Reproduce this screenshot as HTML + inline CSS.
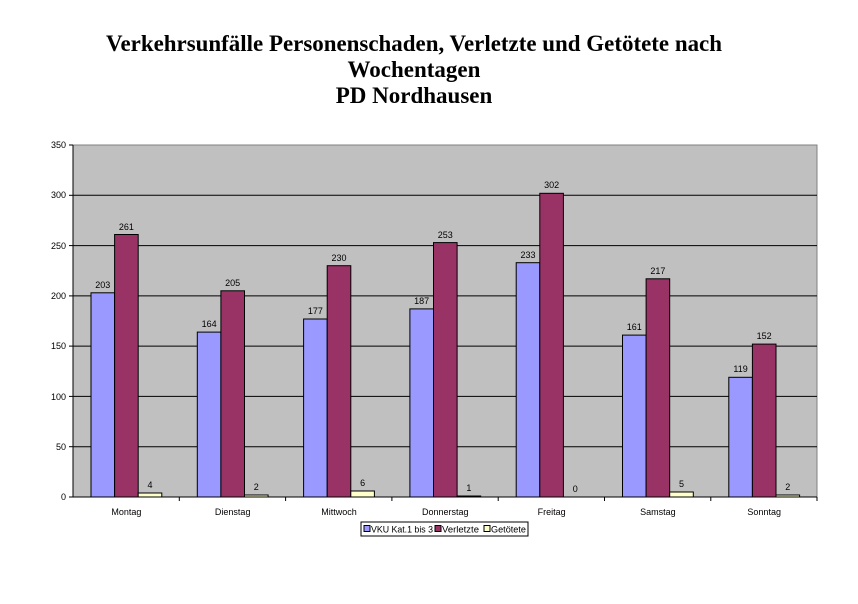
<!DOCTYPE html>
<html><head><meta charset="utf-8"><style>body{margin:0;background:#fff}svg{display:block}</style></head><body>
<svg width="858" height="604" xmlns="http://www.w3.org/2000/svg" font-family="Liberation Sans, sans-serif">
<g font-family="Liberation Serif, serif" font-weight="bold" font-size="23" text-anchor="middle" fill="#000">
<text x="414" y="51" textLength="616" lengthAdjust="spacingAndGlyphs">Verkehrsunfälle Personenschaden, Verletzte und Getötete nach</text>
<text x="414" y="77">Wochentagen</text>
<text x="414" y="103">PD Nordhausen</text>
</g>
<rect x="73" y="145" width="744" height="352" fill="#c0c0c0" stroke="#808080" stroke-width="1"/>
<g stroke="#000" stroke-width="1">
<line x1="73" y1="446.7" x2="817" y2="446.7"/><line x1="73" y1="396.4" x2="817" y2="396.4"/>
<line x1="73" y1="346.1" x2="817" y2="346.1"/><line x1="73" y1="295.9" x2="817" y2="295.9"/>
<line x1="73" y1="245.6" x2="817" y2="245.6"/><line x1="73" y1="195.3" x2="817" y2="195.3"/>
<line x1="73" y1="145" x2="73" y2="497"/><line x1="73" y1="497" x2="817" y2="497"/>
<line x1="69" y1="145" x2="73" y2="145"/><line x1="69" y1="195.3" x2="73" y2="195.3"/><line x1="69" y1="245.6" x2="73" y2="245.6"/><line x1="69" y1="295.9" x2="73" y2="295.9"/><line x1="69" y1="346.1" x2="73" y2="346.1"/><line x1="69" y1="396.4" x2="73" y2="396.4"/><line x1="69" y1="446.7" x2="73" y2="446.7"/><line x1="69" y1="497" x2="73" y2="497"/>
<line x1="179.3" y1="497" x2="179.3" y2="501"/><line x1="285.6" y1="497" x2="285.6" y2="501"/><line x1="391.9" y1="497" x2="391.9" y2="501"/><line x1="498.2" y1="497" x2="498.2" y2="501"/><line x1="604.5" y1="497" x2="604.5" y2="501"/><line x1="710.8" y1="497" x2="710.8" y2="501"/><line x1="817" y1="497" x2="817" y2="501"/>
</g>
<g font-size="9" text-anchor="end" fill="#000">
<text x="66" y="148">350</text><text x="66" y="198">300</text><text x="66" y="249">250</text><text x="66" y="299">200</text><text x="66" y="349">150</text><text x="66" y="400">100</text><text x="66" y="450">50</text><text x="66" y="500">0</text>
</g>
<g stroke="#000" stroke-width="1">
<rect x="91" y="292.8" width="23.6" height="204.2" fill="#9999ff"/><rect x="114.6" y="234.5" width="23.6" height="262.5" fill="#993366"/><rect x="138.2" y="493" width="23.6" height="4" fill="#ffffcc"/>
<rect x="197.3" y="332.1" width="23.6" height="164.9" fill="#9999ff"/><rect x="220.9" y="290.8" width="23.6" height="206.2" fill="#993366"/><rect x="244.5" y="495" width="23.6" height="2" fill="#ffffcc"/>
<rect x="303.6" y="319" width="23.6" height="178" fill="#9999ff"/><rect x="327.2" y="265.7" width="23.6" height="231.3" fill="#993366"/><rect x="350.8" y="491" width="23.6" height="6" fill="#ffffcc"/>
<rect x="409.9" y="308.9" width="23.6" height="188.1" fill="#9999ff"/><rect x="433.5" y="242.6" width="23.6" height="254.4" fill="#993366"/><rect x="457.1" y="496" width="23.6" height="1" fill="#ffffcc"/>
<rect x="516.2" y="262.7" width="23.6" height="234.3" fill="#9999ff"/><rect x="539.8" y="193.3" width="23.6" height="303.7" fill="#993366"/>
<rect x="622.5" y="335.1" width="23.6" height="161.9" fill="#9999ff"/><rect x="646.1" y="278.8" width="23.6" height="218.2" fill="#993366"/><rect x="669.7" y="492" width="23.6" height="5" fill="#ffffcc"/>
<rect x="728.8" y="377.3" width="23.6" height="119.7" fill="#9999ff"/><rect x="752.4" y="344.1" width="23.6" height="152.9" fill="#993366"/><rect x="776" y="495" width="23.6" height="2" fill="#ffffcc"/>
</g>
<g font-size="9" text-anchor="middle" fill="#000">
<text x="102.8" y="288">203</text><text x="126.4" y="230">261</text><text x="150" y="488">4</text>
<text x="209.1" y="327">164</text><text x="232.7" y="286">205</text><text x="256.3" y="490">2</text>
<text x="315.4" y="314">177</text><text x="339" y="261">230</text><text x="362.6" y="486">6</text>
<text x="421.7" y="304">187</text><text x="445.3" y="238">253</text><text x="468.9" y="491">1</text>
<text x="528" y="258">233</text><text x="551.6" y="188">302</text><text x="575.2" y="492">0</text>
<text x="634.3" y="330">161</text><text x="657.9" y="274">217</text><text x="681.5" y="487">5</text>
<text x="740.6" y="372">119</text><text x="764.2" y="339">152</text><text x="787.8" y="490">2</text>
<text x="126.4" y="515">Montag</text><text x="232.7" y="515">Dienstag</text><text x="339" y="515">Mittwoch</text><text x="445.3" y="515">Donnerstag</text><text x="551.6" y="515">Freitag</text><text x="657.9" y="515">Samstag</text><text x="764.2" y="515">Sonntag</text>
</g>
<rect x="361" y="522" width="167" height="14" fill="#fff" stroke="#000"/>
<g stroke="#000" stroke-width="1">
<rect x="364" y="525.5" width="6" height="6" fill="#9999ff"/><rect x="435" y="525.5" width="6" height="6" fill="#993366"/><rect x="484" y="525.5" width="6" height="6" fill="#ffffcc"/>
</g>
<g font-size="9" fill="#000">
<text x="371" y="532.5" textLength="62" lengthAdjust="spacingAndGlyphs">VKU Kat.1 bis 3</text><text x="442" y="532.5" textLength="37" lengthAdjust="spacingAndGlyphs">Verletzte</text><text x="491" y="532.5" textLength="35" lengthAdjust="spacingAndGlyphs">Getötete</text>
</g>
</svg>
</body></html>
